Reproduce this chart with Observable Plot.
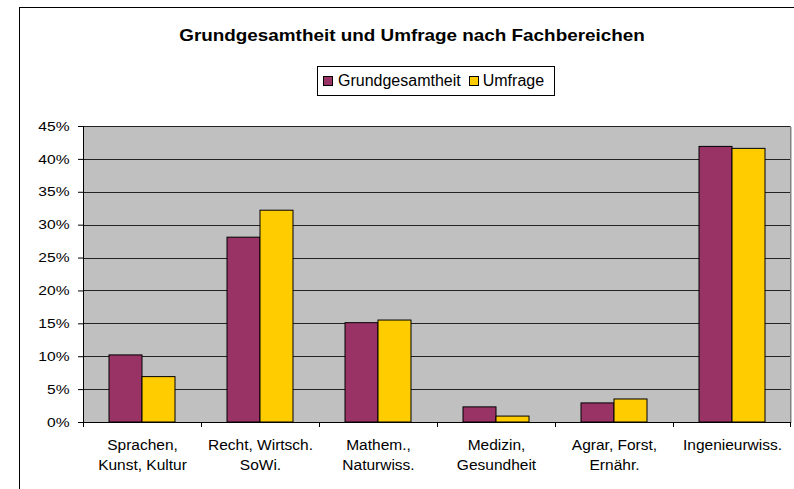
<!DOCTYPE html>
<html>
<head>
<meta charset="utf-8">
<script src="https://cdn.jsdelivr.net/npm/d3@7"></script>
<script src="https://cdn.jsdelivr.net/npm/@observablehq/plot@0.6"></script>
<style>
  html, body { margin: 0; padding: 0; background: #fff; }
  #wrap { position: relative; width: 794px; height: 489px; overflow: hidden;
          font-family: "Liberation Sans", Arial, sans-serif; color: #000; background: #fff; }
  #title { position: absolute; left: 411.5px; top: 27px; font-size: 17px; line-height: 17px;
           font-weight: bold; white-space: nowrap; transform: translateX(-50%) scaleX(1.11); }
  #legend { position: absolute; left: 317px; top: 66px; width: 238px; height: 30px; box-sizing: border-box;
            border: 1px solid #000; display: flex; align-items: center; padding-left: 5px;
            font-size: 16px; line-height: 16px; white-space: nowrap; background: #fff; }
  .sw { width: 10px; height: 10px; box-sizing: border-box; border: 1px solid #000; margin-right: 5px; flex: none; }
  .item { display: flex; align-items: center; }
  .item + .item { margin-left: 8px; }
  .item + .item .sw { margin-right: 4px; }
  #chart { position: absolute; left: 0; top: 110px; }
  #frame { position: absolute; left: 19px; top: 7px; width: 900px; height: 600px;
           border: 1.5px solid #000; pointer-events: none; }
</style>
</head>
<body>
<div id="wrap">
  <div id="title"></div>
  <div id="legend"></div>
  <div id="chart"></div>
  <div id="frame"></div>
</div>
<script>
const titleText = "Grundgesamtheit und Umfrage nach Fachbereichen";
const categories = [
  "Sprachen,\nKunst, Kultur",
  "Recht, Wirtsch.\nSoWi.",
  "Mathem.,\nNaturwiss.",
  "Medizin,\nGesundheit",
  "Agrar, Forst,\nErnähr.",
  "Ingenieurwiss."
];
const series = ["Grundgesamtheit", "Umfrage"];
const grundgesamtheit = [10.2, 28.1, 15.1, 2.3, 2.9, 41.9];
const umfrage = [6.9, 32.2, 15.5, 0.9, 3.5, 41.6];
const yTicks = [0, 5, 10, 15, 20, 25, 30, 35, 40, 45];
const colors = ["#993366", "#FFCC00"];

document.getElementById("title").textContent = titleText;
const legend = document.getElementById("legend");
series.forEach((s, i) => {
  const item = document.createElement("div");
  item.className = "item";
  const sw = document.createElement("div");
  sw.className = "sw";
  sw.style.background = colors[i];
  const label = document.createElement("span");
  label.textContent = s;
  item.appendChild(sw);
  item.appendChild(label);
  legend.appendChild(item);
});

const data = categories.flatMap((c, i) => [
  {cat: c, series: series[0], value: grundgesamtheit[i]},
  {cat: c, series: series[1], value: umfrage[i]}
]);

const plot = Plot.plot({
  width: 794,
  height: 379,
  marginTop: 16,
  marginBottom: 67,
  marginLeft: 81,
  marginRight: 2,
  style: {background: "transparent", fontFamily: "'Liberation Sans', Arial, sans-serif", fontSize: "13px", color: "#000"},
  fx: {domain: categories, padding: 0, label: null},
  x: {domain: series, axis: null, paddingInner: 0, paddingOuter: 0.75},
  y: {domain: [0, 45], label: null},
  color: {domain: series, range: colors},
  marks: [
    Plot.frame({fill: "#c0c0c0", stroke: "none", shapeRendering: "crispEdges"}),
    Plot.gridY(yTicks, {stroke: "#222", strokeOpacity: 1, shapeRendering: "crispEdges"}),
    Plot.barY(data, {fx: "cat", x: "series", y: "value", fill: "series", stroke: "#000", strokeWidth: 1}),
    Plot.ruleY([0], {stroke: "#000", shapeRendering: "crispEdges"}),
    Plot.axisY(yTicks, {label: null, tickSize: 5, tickPadding: 9, tickFormat: d => d + "%", fontSize: 13}),
    Plot.axisFx({anchor: "bottom", label: null, tickSize: 0, tickPadding: 13, fontSize: 15.5, lineHeight: 1.29})
  ]
});
document.getElementById("chart").appendChild(plot);

// widen y tick labels horizontally like the reference
const svg = d3.select(plot);
svg.selectAll('g[aria-label="y-axis tick label"] text').each(function () {
  const t = this.getAttribute("transform") || "";
  this.setAttribute("transform", t + " scale(1.2,1)");
});

// axis line, category boundary ticks and right border, from the plot's scales
try {
  const fx = plot.scale("fx"), ys = plot.scale("y");
  if (fx && ys) {
    const y0 = ys.apply(0), yT = ys.apply(45);
    const xs = categories.map(c => fx.apply(c));
    const xEnd = fx.apply(categories[categories.length - 1]) + fx.bandwidth;
    const g = svg.append("g").attr("fill", "none");
    g.append("line").attr("x1", Math.round(xEnd) - 0.5).attr("x2", Math.round(xEnd) - 0.5)
      .attr("y1", yT).attr("y2", y0).attr("stroke", "#808080");
    g.append("line").attr("x1", xs[0] + 0.5).attr("x2", xs[0] + 0.5)
      .attr("y1", yT).attr("y2", y0 + 5).attr("stroke", "#000");
    xs.slice(1).concat([xEnd]).forEach((x, i, arr) => {
      const px = i === arr.length - 1 ? Math.round(x) - 0.5 : Math.floor(x) + 0.5;
      g.append("line").attr("x1", px).attr("x2", px)
        .attr("y1", y0).attr("y2", y0 + 5).attr("stroke", "#000");
    });
  }
} catch (e) { console.error(e); }
</script>
</body>
</html>
